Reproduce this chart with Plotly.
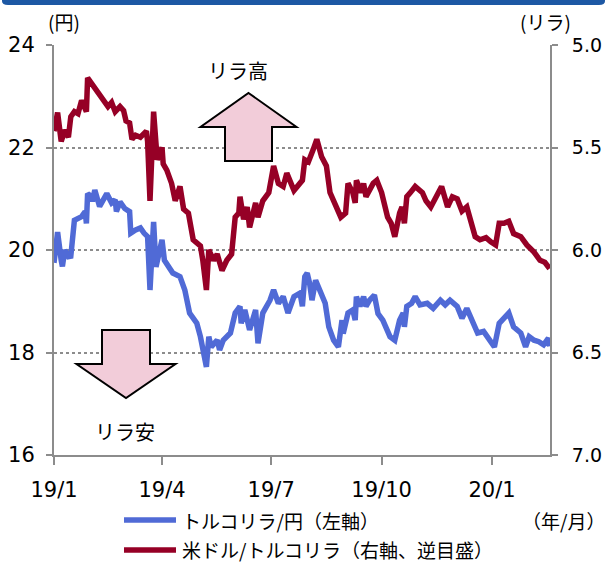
import plotly.graph_objects as go

# ---------------- data ----------------
dates_tryjpy = [
    "2019-01-01", "2019-01-04", "2019-01-07", "2019-01-08", "2019-01-10", "2019-01-13", "2019-01-15",
    "2019-01-18", "2019-01-24", "2019-01-27", "2019-01-28", "2019-01-29", "2019-02-01", "2019-02-02",
    "2019-02-04", "2019-02-08", "2019-02-14", "2019-02-18", "2019-02-21", "2019-02-22", "2019-02-25",
    "2019-03-01", "2019-03-05", "2019-03-06", "2019-03-10", "2019-03-14", "2019-03-17", "2019-03-20",
    "2019-03-22", "2019-03-25", "2019-03-27", "2019-04-01", "2019-04-03", "2019-04-10", "2019-04-16",
    "2019-04-20", "2019-04-24", "2019-04-30", "2019-05-03", "2019-05-08", "2019-05-10", "2019-05-12",
    "2019-05-17", "2019-05-19", "2019-05-22", "2019-05-28", "2019-06-01", "2019-06-05", "2019-06-06",
    "2019-06-09", "2019-06-13", "2019-06-18", "2019-06-20", "2019-06-24", "2019-06-30", "2019-07-03",
    "2019-07-07", "2019-07-11", "2019-07-15", "2019-07-20", "2019-07-25", "2019-07-27", "2019-07-29",
    "2019-07-31", "2019-08-02", "2019-08-04", "2019-08-07", "2019-08-11", "2019-08-15", "2019-08-18",
    "2019-08-22", "2019-08-26", "2019-08-29", "2019-08-30", "2019-09-03", "2019-09-07", "2019-09-09",
    "2019-09-10", "2019-09-13", "2019-09-16", "2019-09-18", "2019-09-21", "2019-09-25", "2019-09-28",
    "2019-10-02", "2019-10-08", "2019-10-12", "2019-10-16", "2019-10-19", "2019-10-20", "2019-10-22",
    "2019-10-26", "2019-10-29", "2019-11-02", "2019-11-08", "2019-11-13", "2019-11-19", "2019-11-23",
    "2019-11-27", "2019-12-03", "2019-12-07", "2019-12-11", "2019-12-16", "2019-12-20", "2019-12-25",
    "2019-12-29", "2020-01-03", "2020-01-07", "2020-01-12", "2020-01-15", "2020-01-19", "2020-01-25",
    "2020-01-29", "2020-02-01", "2020-02-05", "2020-02-09", "2020-02-13", "2020-02-17", "2020-02-18",
]
tryjpy = [
    19.75, 20.35, 19.80, 19.68, 20.00, 19.87, 19.88,
    20.58, 20.65, 20.75, 20.52, 21.10, 21.05, 20.95,
    21.17, 20.85, 21.10, 20.92, 20.98, 20.75, 20.94,
    20.81, 20.75, 20.33, 20.39, 20.43, 20.33, 20.26,
    19.22, 20.55, 19.67, 20.20, 19.80, 19.55, 19.48,
    19.22, 18.77, 18.57, 18.31, 17.72, 18.31, 18.11,
    18.24, 18.05, 18.24, 18.38, 18.77, 18.90, 18.57,
    18.83, 18.44, 18.83, 18.18, 18.77, 19.02, 19.22,
    18.96, 19.09, 18.77, 19.09, 19.16, 18.90, 19.48,
    19.55, 19.35, 19.02, 19.41, 19.15, 18.96, 18.50,
    18.24, 18.11, 18.63, 18.37, 18.77, 18.83, 18.63,
    19.09, 18.90, 19.09, 18.90, 19.02, 19.12, 18.76,
    18.63, 18.31, 18.24, 18.63, 18.77, 18.50, 18.90,
    18.96, 19.09, 18.93, 18.96, 18.86, 19.02, 18.93,
    19.02, 18.90, 18.67, 18.86, 18.57, 18.38, 18.41,
    18.28, 18.11, 18.57, 18.70, 18.77, 18.50, 18.38,
    18.11, 18.31, 18.24, 18.21, 18.15, 18.28, 18.12,
]

dates_usdtry = [
    "2019-01-01", "2019-01-04", "2019-01-07", "2019-01-10", "2019-01-13", "2019-01-15", "2019-01-18",
    "2019-01-21", "2019-01-24", "2019-01-28", "2019-01-29", "2019-02-02", "2019-02-07", "2019-02-11",
    "2019-02-15", "2019-02-18", "2019-02-21", "2019-02-25", "2019-02-28", "2019-03-02", "2019-03-05",
    "2019-03-07", "2019-03-10", "2019-03-14", "2019-03-19", "2019-03-20", "2019-03-22", "2019-03-25",
    "2019-03-28", "2019-04-01", "2019-04-02", "2019-04-05", "2019-04-09", "2019-04-12", "2019-04-13",
    "2019-04-16", "2019-04-19", "2019-04-23", "2019-04-27", "2019-05-03", "2019-05-05", "2019-05-08",
    "2019-05-10", "2019-05-14", "2019-05-17", "2019-05-21", "2019-05-25", "2019-05-29", "2019-06-01",
    "2019-06-04", "2019-06-05", "2019-06-08", "2019-06-11", "2019-06-13", "2019-06-18", "2019-06-20",
    "2019-06-24", "2019-06-29", "2019-07-03", "2019-07-07", "2019-07-11", "2019-07-14", "2019-07-20",
    "2019-07-24", "2019-07-27", "2019-07-29", "2019-08-01", "2019-08-05", "2019-08-08", "2019-08-12",
    "2019-08-16", "2019-08-19", "2019-08-23", "2019-08-28", "2019-09-01", "2019-09-03", "2019-09-07",
    "2019-09-09", "2019-09-10", "2019-09-14", "2019-09-16", "2019-09-18", "2019-09-24", "2019-09-27",
    "2019-10-01", "2019-10-06", "2019-10-09", "2019-10-12", "2019-10-16", "2019-10-18", "2019-10-20",
    "2019-10-22", "2019-10-25", "2019-10-29", "2019-11-04", "2019-11-07", "2019-11-11", "2019-11-16",
    "2019-11-20", "2019-11-25", "2019-11-29", "2019-12-03", "2019-12-07", "2019-12-11", "2019-12-14",
    "2019-12-18", "2019-12-22", "2019-12-27", "2019-12-31", "2020-01-04", "2020-01-07", "2020-01-11",
    "2020-01-15", "2020-01-19", "2020-01-25", "2020-01-30", "2020-02-05", "2020-02-10", "2020-02-14",
    "2020-02-18",
]
usdtry = [
    5.42, 5.33, 5.47, 5.415, 5.45, 5.35, 5.325,
    5.335, 5.27, 5.325, 5.16, 5.195, 5.24, 5.27,
    5.30, 5.28, 5.325, 5.30, 5.32, 5.37, 5.38,
    5.46, 5.44, 5.45, 5.42, 5.47, 5.76, 5.325,
    5.56, 5.50, 5.58, 5.61, 5.675, 5.76, 5.74,
    5.69, 5.80, 5.82, 5.95, 5.98, 6.05, 6.195,
    6.00, 6.05, 6.02, 6.10, 6.05, 6.02, 5.84,
    5.82, 5.74, 5.85, 5.79, 5.89, 5.77, 5.84,
    5.76, 5.72, 5.59, 5.675, 5.69, 5.625, 5.71,
    5.68, 5.66, 5.56, 5.57, 5.51, 5.46, 5.545,
    5.59, 5.72, 5.77, 5.84, 5.82, 5.675, 5.72,
    5.77, 5.66, 5.72, 5.675, 5.74, 5.675, 5.66,
    5.72, 5.84, 5.87, 5.935, 5.82, 5.79, 5.87,
    5.74, 5.72, 5.69, 5.72, 5.76, 5.79, 5.73,
    5.69, 5.79, 5.74, 5.75, 5.81, 5.79, 5.85,
    5.935, 5.95, 5.94, 5.96, 5.975, 5.87, 5.87,
    5.86, 5.92, 5.935, 5.975, 6.01, 6.05, 6.06,
    6.09,
]

x_tick_vals = ["2019-01-01", "2019-04-01", "2019-07-01", "2019-10-01", "2020-01-01"]
x_tick_text = ["19/1", "19/4", "19/7", "19/10", "20/1"]
left_ticks = [16, 18, 20, 22, 24]
right_ticks = [5.0, 5.5, 6.0, 6.5, 7.0]

name_tryjpy = "トルコリラ/円（左軸）"
name_usdtry = "米ドル/トルコリラ（右軸、逆目盛）"

# ---------------- style ----------------
BLUE = "#506ad6"
RED = "#960026"
AXIS = "#8c8c8c"
NUM_FONT = "DejaVu Sans, Verdana, sans-serif"
JP_FONT = "Noto Sans CJK JP, DejaVu Sans, sans-serif"

W, H = 607, 564
L, R, T, B = 54, 57, 45, 109
PW, PH = W - L - R, H - T - B


def px(x):
    return (x - L) / PW


def py(y):
    return (H - B - y) / PH


fig = go.Figure()
fig.add_trace(go.Scatter(x=dates_tryjpy, y=tryjpy, mode="lines", name=name_tryjpy,
                         line=dict(color=BLUE, width=5.5), yaxis="y"))
fig.add_trace(go.Scatter(x=dates_usdtry, y=usdtry, mode="lines", name=name_usdtry,
                         line=dict(color=RED, width=5.5), yaxis="y2"))

shapes = []
# top header stripe
shapes.append(dict(type="path", xref="paper", yref="paper",
                   path=f"M {px(2)},{py(-3)} L {px(605)},{py(-3)} L {px(605)},{py(1)} "
                        f"Q {px(605)},{py(5)} {px(599)},{py(5)} L {px(8)},{py(5)} "
                        f"Q {px(2)},{py(5)} {px(2)},{py(1)} Z",
                   fillcolor="#1d58a4", line=dict(width=0), layer="above"))
# up arrow
up = [(248.5, 93), (296.5, 127), (272, 127), (272, 161), (225, 161), (225, 127), (200.5, 127)]
shapes.append(dict(type="path", xref="paper", yref="paper",
                   path="M " + " L ".join(f"{px(a)},{py(b)}" for a, b in up) + " Z",
                   fillcolor="#f2ccd9", line=dict(color="black", width=2), layer="above"))
# down arrow
dn = [(102, 330), (150, 330), (150, 364), (175.5, 364), (126, 398), (76.5, 364), (102, 364)]
shapes.append(dict(type="path", xref="paper", yref="paper",
                   path="M " + " L ".join(f"{px(a)},{py(b)}" for a, b in dn) + " Z",
                   fillcolor="#f2ccd9", line=dict(color="black", width=2), layer="above"))
# legend samples
shapes.append(dict(type="line", xref="paper", yref="paper", x0=px(124), x1=px(176), y0=py(520), y1=py(520),
                   line=dict(color=BLUE, width=5.5)))
shapes.append(dict(type="line", xref="paper", yref="paper", x0=px(124), x1=px(176), y0=py(550), y1=py(550),
                   line=dict(color=RED, width=5.5)))

annotations = [
    dict(text="リラ高", x=px(237.5), y=py(70), font=dict(size=20, family=JP_FONT, color="black")),
    dict(text="リラ安", x=px(125), y=py(431), font=dict(size=20, family=JP_FONT, color="black")),
    dict(text="(円)", x=px(64), y=py(22), font=dict(size=19, family=JP_FONT, color="black")),
    dict(text="(リラ)", x=px(545), y=py(22), font=dict(size=19, family=JP_FONT, color="black")),
    dict(text="（年/月）", x=px(563), y=py(520), font=dict(size=19, family=JP_FONT, color="black")),
    dict(text=name_tryjpy, x=px(180), y=py(520), xanchor="left",
         font=dict(size=19, family=JP_FONT, color="black")),
    dict(text=name_usdtry, x=px(180), y=py(549), xanchor="left",
         font=dict(size=19, family=JP_FONT, color="black")),
]
for a in annotations:
    a.update(xref="paper", yref="paper", showarrow=False)
    a.setdefault("xanchor", "center")
    a.setdefault("yanchor", "middle")

fig.update_layout(
    width=W, height=H,
    margin=dict(l=L, r=R, t=T, b=B, autoexpand=False),
    paper_bgcolor="white", plot_bgcolor="white",
    showlegend=False,
    shapes=shapes, annotations=annotations,
    xaxis=dict(
        type="date", range=["2019-01-01", "2020-02-18 08:00"],
        tickmode="array", tickvals=x_tick_vals, ticktext=x_tick_text,
        showgrid=False, zeroline=False,
        showline=True, linecolor=AXIS, linewidth=2,
        ticks="outside", ticklen=8, tickwidth=2, tickcolor=AXIS,
        tickfont=dict(size=21, family=NUM_FONT, color="black"),
        ticklabelstandoff=7,
    ),
    yaxis=dict(
        range=[16, 24], tickmode="array", tickvals=left_ticks,
        showgrid=True, gridcolor="#8c8c8c", gridwidth=2, griddash="dot",
        zeroline=False,
        showline=True, linecolor=AXIS, linewidth=2,
        ticks="outside", ticklen=6, tickwidth=2, tickcolor=AXIS,
        tickfont=dict(size=21, family=NUM_FONT, color="black"),
        ticklabelstandoff=7,
    ),
    yaxis2=dict(
        overlaying="y", side="right", range=[7.0, 5.0],
        tickmode="array", tickvals=right_ticks, tickformat=".1f",
        showgrid=False, zeroline=False,
        showline=True, linecolor=AXIS, linewidth=2,
        ticks="outside", ticklen=6, tickwidth=2, tickcolor=AXIS,
        tickfont=dict(size=19, family=NUM_FONT, color="black"),
        ticklabelstandoff=10,
    ),
)

fig.write_html("out.html", config={"displayModeBar": False},
               post_script="document.body.style.margin='0';document.body.style.padding='0';")
